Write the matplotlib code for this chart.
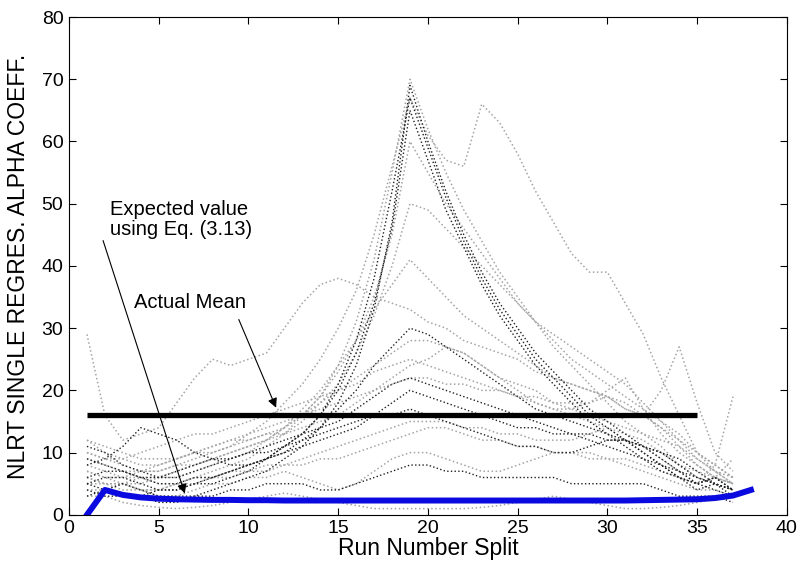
import matplotlib
matplotlib.use("Agg")
import matplotlib.pyplot as plt
import numpy as np

plt.rcParams['font.family'] = ['Liberation Sans', 'DejaVu Sans']

x_runs = list(range(1, 38))

# dotted series (values at run 1..37)
s_black1 = [3,4,5,4,3,3,3,4,5,6,7,9,11,14,18,24,33,47,69,60,52,45,39,34,30,26,23,20,17,15,13,11,9,7,5,6,4]
s_black2 = [5,6,6,5,4,4,5,5,6,7,9,11,13,16,21,28,38,52,67,59,51,44,38,33,29,25,22,19,16,14,12,10,8,6,4,5,3]
s_black3 = [6,7,7,6,5,5,6,6,7,8,9,11,13,16,20,26,34,46,65,57,49,43,37,32,28,24,21,18,15,13,11,9,7,6,5,6,4]
s_gray1 = [8,7,6,6,5,5,6,7,8,9,11,13,16,19,24,31,41,55,70,62,55,49,44,39,35,31,27,24,21,18,15,13,11,8,6,5,4]
s_gray2 = [10,9,8,7,7,8,9,10,11,13,15,18,21,25,30,36,45,56,67,61,57,56,66,63,58,52,47,42,39,39,34,29,22,16,10,7,5]
s_gray3 = [6,5,5,5,6,6,7,8,9,10,12,14,16,19,23,28,35,45,60,55,50,46,42,38,34,31,28,25,23,21,19,17,15,13,10,8,6]
s_gray4 = [4,4,5,6,6,7,8,9,10,11,12,13,15,18,21,26,32,40,50,49,46,43,40,37,34,31,29,27,25,23,21,18,15,12,9,7,5]
s_gray5 = [29,16,12,13,14,18,22,25,24,25,26,30,34,37,38,37,35,34,33,31,30,28,27,26,25,23,22,21,20,19,17,16,14,12,10,8,6]
s_gray6 = [7,6,6,7,7,8,8,9,10,11,12,14,17,20,24,28,33,37,41,38,35,32,30,28,26,24,22,21,20,19,18,16,14,11,8,6,5]
s_black4 = [5,4,3,3,4,4,5,6,7,8,9,10,12,14,17,20,24,27,30,29,27,25,23,21,19,17,16,15,14,13,12,11,10,8,6,5,4]
s_gray7 = [9,8,7,7,8,9,10,10,11,12,13,14,16,18,20,22,24,26,28,28,27,26,24,22,21,20,18,17,16,15,14,13,12,11,9,7,6]
s_gray8 = [12,10,9,8,8,9,10,11,12,13,14,15,16,17,18,19,20,21,22,22,21,21,20,20,19,19,18,18,18,19,17,16,20,27,18,10,7]
s_gray9 = [6,5,5,4,4,5,6,6,7,7,8,8,9,10,11,12,13,14,15,15,15,14,14,13,13,12,12,12,13,14,12,11,9,7,5,8,19]
s_gray10 = [7,6,5,4,3,3,4,5,5,6,6,7,6,5,4,5,7,9,10,10,9,8,7,7,8,9,10,10,10,9,8,7,6,5,4,4,3]
s_black5 = [4,3,3,3,2,2,3,3,4,4,5,5,5,4,4,5,6,7,8,8,7,7,6,6,6,6,6,5,5,5,5,5,4,3,3,3,2]
s_gray11 = [3,3,2,1.5,1.2,1,1.2,1.5,2,2.5,3,3.5,3,2.5,2,1.5,1,1,1,1,1,1,1.2,1.5,2,2.5,3,2.5,2,1.5,1,1,1.2,1.5,2,2.5,3]
s_black6 = [8,9,11,14,13,12,10,9,8,8,9,10,11,12,13,14,16,18,20,19,18,17,16,15,14,14,13,13,13,12,12,11,10,9,7,5,4]
s_gray12 = [10,9,9,10,11,12,13,13,14,15,16,17,18,19,20,21,23,24,25,24,23,22,21,20,19,18,17,17,18,20,22,17,13,10,8,6,5]
s_black7 = [11,10,8,7,6,6,7,8,9,10,11,12,13,14,15,17,19,21,22,21,20,19,18,17,16,15,14,13,12,11,10,9,8,7,6,5,4]
s_gray13 = [12,11,10,9,9,9,10,11,12,12,13,13,14,15,16,18,20,22,24,25,27,26,24,22,20,18,17,16,15,14,13,12,10,8,7,6,5]
s_black8 = [9,8,7,6,6,7,8,9,9,10,10,11,12,13,14,15,16,16,17,16,15,14,13,12,11,11,10,10,11,12,12,10,8,6,5,4,3]
s_gray14 = [5,5,4,4,4,5,5,6,6,7,7,8,8,9,9,10,11,12,13,14,14,13,12,12,11,11,10,10,9,9,9,8,7,6,5,6,9]

black_series = [s_black1, s_black2, s_black3, s_black4, s_black5, s_black6, s_black7, s_black8]
gray_series = [s_gray1, s_gray2, s_gray3, s_gray4, s_gray5, s_gray6, s_gray7, s_gray8,
               s_gray9, s_gray10, s_gray11, s_gray12, s_gray13, s_gray14]

# expected value curve (blue)
blue_x = list(range(1, 39))
blue_y = [0,4.0,3.2,2.8,2.6,2.5,2.45,2.4,2.4,2.35,2.35,2.3,2.3,2.3,2.3,2.3,2.3,2.3,2.3,2.3,2.3,2.3,2.3,2.3,2.3,2.3,2.3,2.3,2.3,2.3,2.3,2.35,2.4,2.45,2.5,2.7,3.1,4.0]

mean_x = [1, 35]
mean_y = [16, 16]

fig = plt.figure(figsize=(8.12, 5.67), dpi=100)
ax = fig.add_axes([0.085, 0.092, 0.884, 0.878])

for s in gray_series:
    ax.plot(x_runs, s, linestyle=':', color='#a4a4a4', linewidth=1.1)
for s in black_series:
    ax.plot(x_runs, s, linestyle=':', color='#202020', linewidth=1.0)

ax.plot(mean_x, mean_y, color='black', linewidth=3.8, solid_capstyle='butt')
ax.plot(blue_x, blue_y, color='#0a0ae0', linewidth=4.3)

ax.set_xlim(0, 40)
ax.set_ylim(0, 80)
ax.set_xticks(range(0, 41, 5))
ax.set_yticks(range(0, 81, 10))
ax.tick_params(direction='in', top=True, right=True, length=5, labelsize=14, pad=4)
for sp in ax.spines.values():
    sp.set_linewidth(0.8)

ax.set_xlabel('Run Number Split', fontsize=16.5, labelpad=0)
ax.set_ylabel('NLRT SINGLE REGRES. ALPHA COEFF.', fontsize=16.5, labelpad=8)

ax.annotate('', xy=(6.5, 3.0), xytext=(1.85, 44.5),
            arrowprops=dict(arrowstyle='-|>', color='black', lw=0.8, mutation_scale=14))
ax.text(2.3, 47.5, 'Expected value\nusing Eq. (3.13)', fontsize=14.5, ha='left', va='center', linespacing=1.1)

ax.annotate('', xy=(11.6, 16.8), xytext=(9.4, 31.8),
            arrowprops=dict(arrowstyle='-|>', color='black', lw=0.8, mutation_scale=14))
ax.text(3.6, 34.2, 'Actual Mean', fontsize=14.5, ha='left', va='center')

fig.savefig('out.png', dpi=100)
